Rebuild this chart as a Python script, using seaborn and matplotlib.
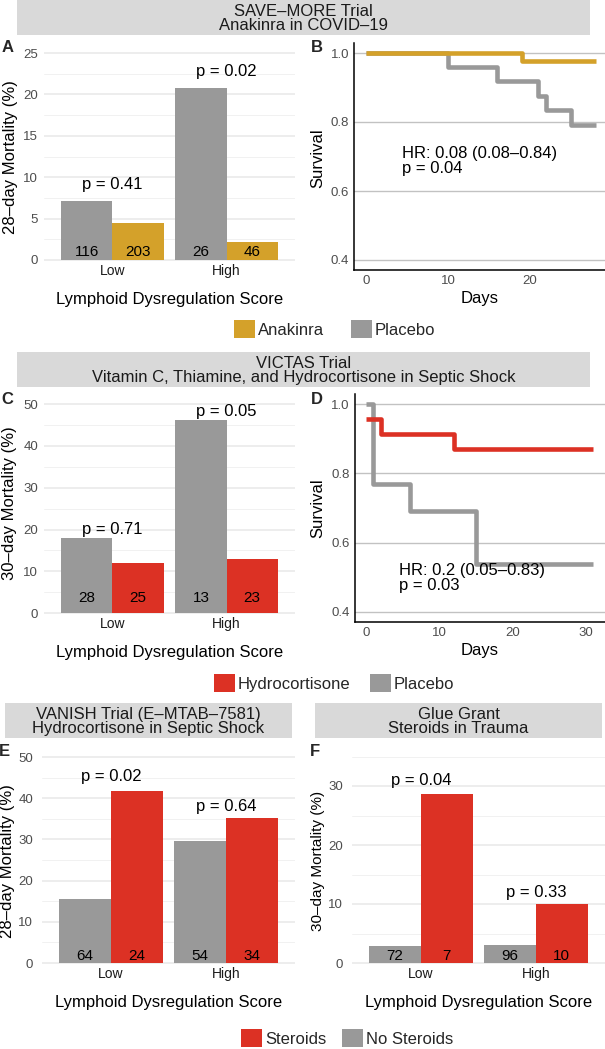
"""
Lymphoid dysregulation score vs treatment response, four trials
"""

import numpy as np
import pandas as pd
import matplotlib
matplotlib.use("Agg")
import matplotlib.pyplot as plt
from matplotlib.patches import Patch
from matplotlib.ticker import MultipleLocator, FormatStrFormatter
import seaborn as sns

sns.set_style("white")
plt.rcParams["font.family"] = ["Liberation Sans", "DejaVu Sans"]

W, H = 605, 1049

GOLD = "#D4A12A"
RED = "#DC3124"
GREY = "#999999"
PAL = {"Placebo": GREY, "Anakinra": GOLD, "Hydrocortisone": RED,
       "Steroids": RED, "No Steroids": GREY}

# ---------------- data ----------------
score = ["Low", "Low", "High", "High"]
score_order = ["Low", "High"]

# A - SAVE-MORE
a_arm = ["Placebo", "Anakinra", "Placebo", "Anakinra"]
a_mort = [7.1, 4.5, 20.8, 2.2]
a_n = [116, 203, 26, 46]
a_p = ["p = 0.41", "p = 0.02"]

# B - SAVE-MORE survival (high score)
b_days_plac = [0, 10, 16, 21, 22, 25, 28]
b_surv_plac = [1.0, 0.96, 0.92, 0.875, 0.835, 0.79, 0.79]
b_days_anak = [0, 19, 28]
b_surv_anak = [1.0, 0.977, 0.977]
b_hr = "HR: 0.08 (0.08–0.84)\np = 0.04"

# C - VICTAS
c_arm = ["Placebo", "Hydrocortisone", "Placebo", "Hydrocortisone"]
c_mort = [17.9, 12.0, 46.2, 13.0]
c_n = [28, 25, 13, 23]
c_p = ["p = 0.71", "p = 0.05"]

# D - VICTAS survival (high score)
d_days_plac = [0, 1, 6, 15, 31]
d_surv_plac = [1.0, 0.769, 0.692, 0.538, 0.538]
d_days_hc = [0, 2, 12, 31]
d_surv_hc = [0.957, 0.913, 0.870, 0.870]
d_hr = "HR: 0.2 (0.05–0.83)\np = 0.03"

# E - VANISH
e_arm = ["No Steroids", "Steroids", "No Steroids", "Steroids"]
e_mort = [15.6, 41.7, 29.6, 35.3]
e_n = [64, 24, 54, 34]
e_p = ["p = 0.02", "p = 0.64"]

# F - Glue Grant
f_arm = ["No Steroids", "Steroids", "No Steroids", "Steroids"]
f_mort = [2.8, 28.6, 3.1, 10.0]
f_n = [72, 7, 96, 10]
f_p = ["p = 0.04", "p = 0.33"]

fig = plt.figure(figsize=(W / 100, H / 100), dpi=100)


def add_px(left, right, ref_val, ref_px, ppu, ylim):
    # axes placed so that ref_val sits at pixel row ref_px
    top = ref_px - (ylim[1] - ref_val) * ppu
    bottom = ref_px + (ref_val - ylim[0]) * ppu
    return fig.add_axes([left / W, 1 - bottom / H, (right - left) / W, (bottom - top) / H])


def frac(ax, x_px, y_px):
    b = ax.get_position()
    return (x_px / W - b.x0) / b.width, ((1 - y_px / H) - b.y0) / b.height


def labels(ax, xlab, xpos, ylab, ypos, yfs=12):
    ax.set_xlabel(xlab, fontsize=12, color="black")
    ax.xaxis.label.set_va("center")
    ax.xaxis.set_label_coords(*frac(ax, *xpos))
    ax.set_ylabel(ylab, fontsize=yfs, color="black")
    ax.yaxis.label.set_va("center")
    ax.yaxis.set_label_coords(*frac(ax, *ypos))


def bar_panel(ax, arms, mort, counts, pvals, p_y, n_y, ylim, major, ytick_pad):
    df = pd.DataFrame({"score": score, "arm": arms, "mort": mort, "n": counts})
    hue_order = [arms[0], arms[1]]
    sns.barplot(data=df, x="score", y="mort", hue="arm", order=score_order,
                hue_order=hue_order, palette={k: PAL[k] for k in hue_order},
                saturation=1, width=0.9, errorbar=None, linewidth=0,
                legend=False, ax=ax)
    for bars in ax.containers:
        for bar in bars:
            cx = bar.get_x() + bar.get_width() / 2
            i = int(round(cx))
            arm = hue_order[0] if cx < i else hue_order[1]
            n = df.loc[(df.score == score_order[i]) & (df.arm == arm), "n"].iloc[0]
            ax.text(cx, n_y, str(n), ha="center", va="center", fontsize=11, color="black")
    for i, p in enumerate(pvals):
        ax.text(i, p_y[i], p, ha="center", va="center", fontsize=12, color="black")
    ax.set_xlim(-0.6, 1.6)
    ax.set_ylim(*ylim)
    ax.yaxis.set_major_locator(MultipleLocator(major))
    ax.yaxis.set_minor_locator(MultipleLocator(major / 2))
    ax.grid(axis="y", which="major", color="#E8E8E8", lw=1.1)
    ax.grid(axis="y", which="minor", color="#EFEFEF", lw=0.6)
    ax.grid(axis="x", visible=False)
    ax.set_axisbelow(True)
    sns.despine(ax=ax, left=True, bottom=True)
    ax.tick_params(axis="y", which="both", length=0, pad=ytick_pad, labelsize=9.5, labelcolor="#4D4D4D")
    ax.tick_params(axis="x", length=0, pad=2, labelsize=10, labelcolor="#1A1A1A")


def km_panel(ax, curves, hue_order, hr_text, hr_xy, xlim, xticks):
    df = pd.concat([pd.DataFrame({"days": d, "surv": s, "arm": arm})
                    for arm, (d, s) in curves.items()], ignore_index=True)
    sns.lineplot(data=df, x="days", y="surv", hue="arm", hue_order=hue_order,
                 palette={k: PAL[k] for k in hue_order}, estimator=None,
                 drawstyle="steps-post", linewidth=3.3, solid_capstyle="butt",
                 legend=False, ax=ax)
    ax.text(hr_xy[0], hr_xy[1], hr_text, ha="left", va="top", fontsize=12,
            linespacing=1.0, color="black")
    ax.set_xlim(*xlim)
    ax.set_ylim(0.37, 1.03)
    ax.set_xticks(xticks)
    ax.set_yticks([0.4, 0.6, 0.8, 1.0])
    ax.yaxis.set_major_formatter(FormatStrFormatter("%.1f"))
    ax.grid(axis="y", color="#C2C2C2", lw=1.0)
    ax.grid(axis="x", visible=False)
    ax.set_axisbelow(True)
    sns.despine(ax=ax)
    for s in ["left", "bottom"]:
        ax.spines[s].set_color("black")
        ax.spines[s].set_linewidth(1.1)
    ax.tick_params(length=3, width=1, color="black", pad=0.5, labelsize=9.5,
                   labelcolor="#4D4D4D", direction="out")


def strip(left, right, top, bottom, title):
    sax = fig.add_axes([left / W, 1 - bottom / H, (right - left) / W, (bottom - top) / H])
    sax.set_facecolor("#D9D9D9")
    sax.set_xticks([])
    sax.set_yticks([])
    for s in sax.spines.values():
        s.set_visible(False)
    sax.text(0.5, 0.47, title, ha="center", va="center", fontsize=12,
             color="#1A1A1A", linespacing=0.95, transform=sax.transAxes)


def add_legend(arms, left_px, cy_px, colspace):
    handles = [Patch(facecolor=PAL[a], edgecolor="none") for a in arms]
    fig.legend(handles, arms, loc="center left", bbox_to_anchor=(left_px / W, 1 - cy_px / H),
               ncol=2, frameon=False, fontsize=12, handlelength=1.26, handleheight=1.26,
               handletextpad=0.18, columnspacing=colspace, borderpad=0, borderaxespad=0)


def letter(x, y, s):
    fig.text(x / W, 1 - y / H, s, ha="center", va="center", fontsize=12, fontweight="bold")


# ---------------- row 1: SAVE-MORE ----------------
strip(17, 590, 0, 35, "SAVE–MORE Trial\nAnakinra in COVID–19")

axA = add_px(44, 295, 0, 260, 8.28, (-0.15, 25.7))
bar_panel(axA, a_arm, a_mort, a_n, a_p, p_y=[9.06, 22.8], n_y=0.97,
          ylim=(-0.15, 25.7), major=5, ytick_pad=4.3)
labels(axA, "Lymphoid Dysregulation Score", (170, 300), "28–day Mortality (%)", (11, 157))

axB = add_px(354, 605, 1.0, 53, 345, (0.37, 1.03))
km_panel(axB, {"Placebo": (b_days_plac, b_surv_plac), "Anakinra": (b_days_anak, b_surv_anak)},
         ["Placebo", "Anakinra"], b_hr, (4.35, 0.73), (-1.46, 29.15), [0, 10, 20])
labels(axB, "Days", (480, 298), "Survival", (317.5, 158))

add_legend(["Anakinra", "Placebo"], 234, 329, 1.6)
letter(7.5, 48, "A")
letter(317, 48, "B")

# ---------------- row 2: VICTAS ----------------
strip(17, 590, 352, 387, "VICTAS Trial\nVitamin C, Thiamine, and Hydrocortisone in Septic Shock")

axC = add_px(44, 295, 0, 613, 4.175, (-0.3, 51.4))
bar_panel(axC, c_arm, c_mort, c_n, c_p, p_y=[20.0, 48.2], n_y=3.5,
          ylim=(-0.3, 51.4), major=10, ytick_pad=4.3)
labels(axC, "Lymphoid Dysregulation Score", (170, 652), "30–day Mortality (%)", (9.5, 503))

axD = add_px(354.6, 604.6, 1.0, 404.3, 346, (0.37, 1.03))
km_panel(axD, {"Placebo": (d_days_plac, d_surv_plac), "Hydrocortisone": (d_days_hc, d_surv_hc)},
         ["Placebo", "Hydrocortisone"], d_hr, (4.5, 0.54), (-1.55, 32.55), [0, 10, 20, 30])
labels(axD, "Days", (480, 650), "Survival", (317.5, 508))

add_legend(["Hydrocortisone", "Placebo"], 214, 683, 1.15)
letter(7, 400, "C")
letter(317, 400, "D")

# ---------------- row 3: VANISH / Glue Grant ----------------
strip(5, 292, 703, 738, "VANISH Trial (E–MTAB–7581)\nHydrocortisone in Septic Shock")
strip(315, 602, 703, 738, "Glue Grant\nSteroids in Trauma")

axE = add_px(42, 295, 0, 963, 4.12, (-0.3, 51.5))
bar_panel(axE, e_arm, e_mort, e_n, e_p, p_y=[45.2, 37.9], n_y=1.7,
          ylim=(-0.3, 51.5), major=10, ytick_pad=6.5)
labels(axE, "Lymphoid Dysregulation Score", (169, 1003), "28–day Mortality (%)", (7.5, 861))

axF = add_px(352, 605, 0, 963, 5.9, (-0.2, 35.9))
bar_panel(axF, f_arm, f_mort, f_n, f_p, p_y=[30.9, 11.9], n_y=1.2,
          ylim=(-0.2, 35.9), major=10, ytick_pad=6.5)
labels(axF, "Lymphoid Dysregulation Score", (479, 1003), "30–day Mortality (%)", (318, 861), yfs=11)

add_legend(["Steroids", "No Steroids"], 241, 1038, 0.95)
letter(4.5, 752, "E")
letter(315, 752, "F")

plt.savefig("out.png", dpi=100)
